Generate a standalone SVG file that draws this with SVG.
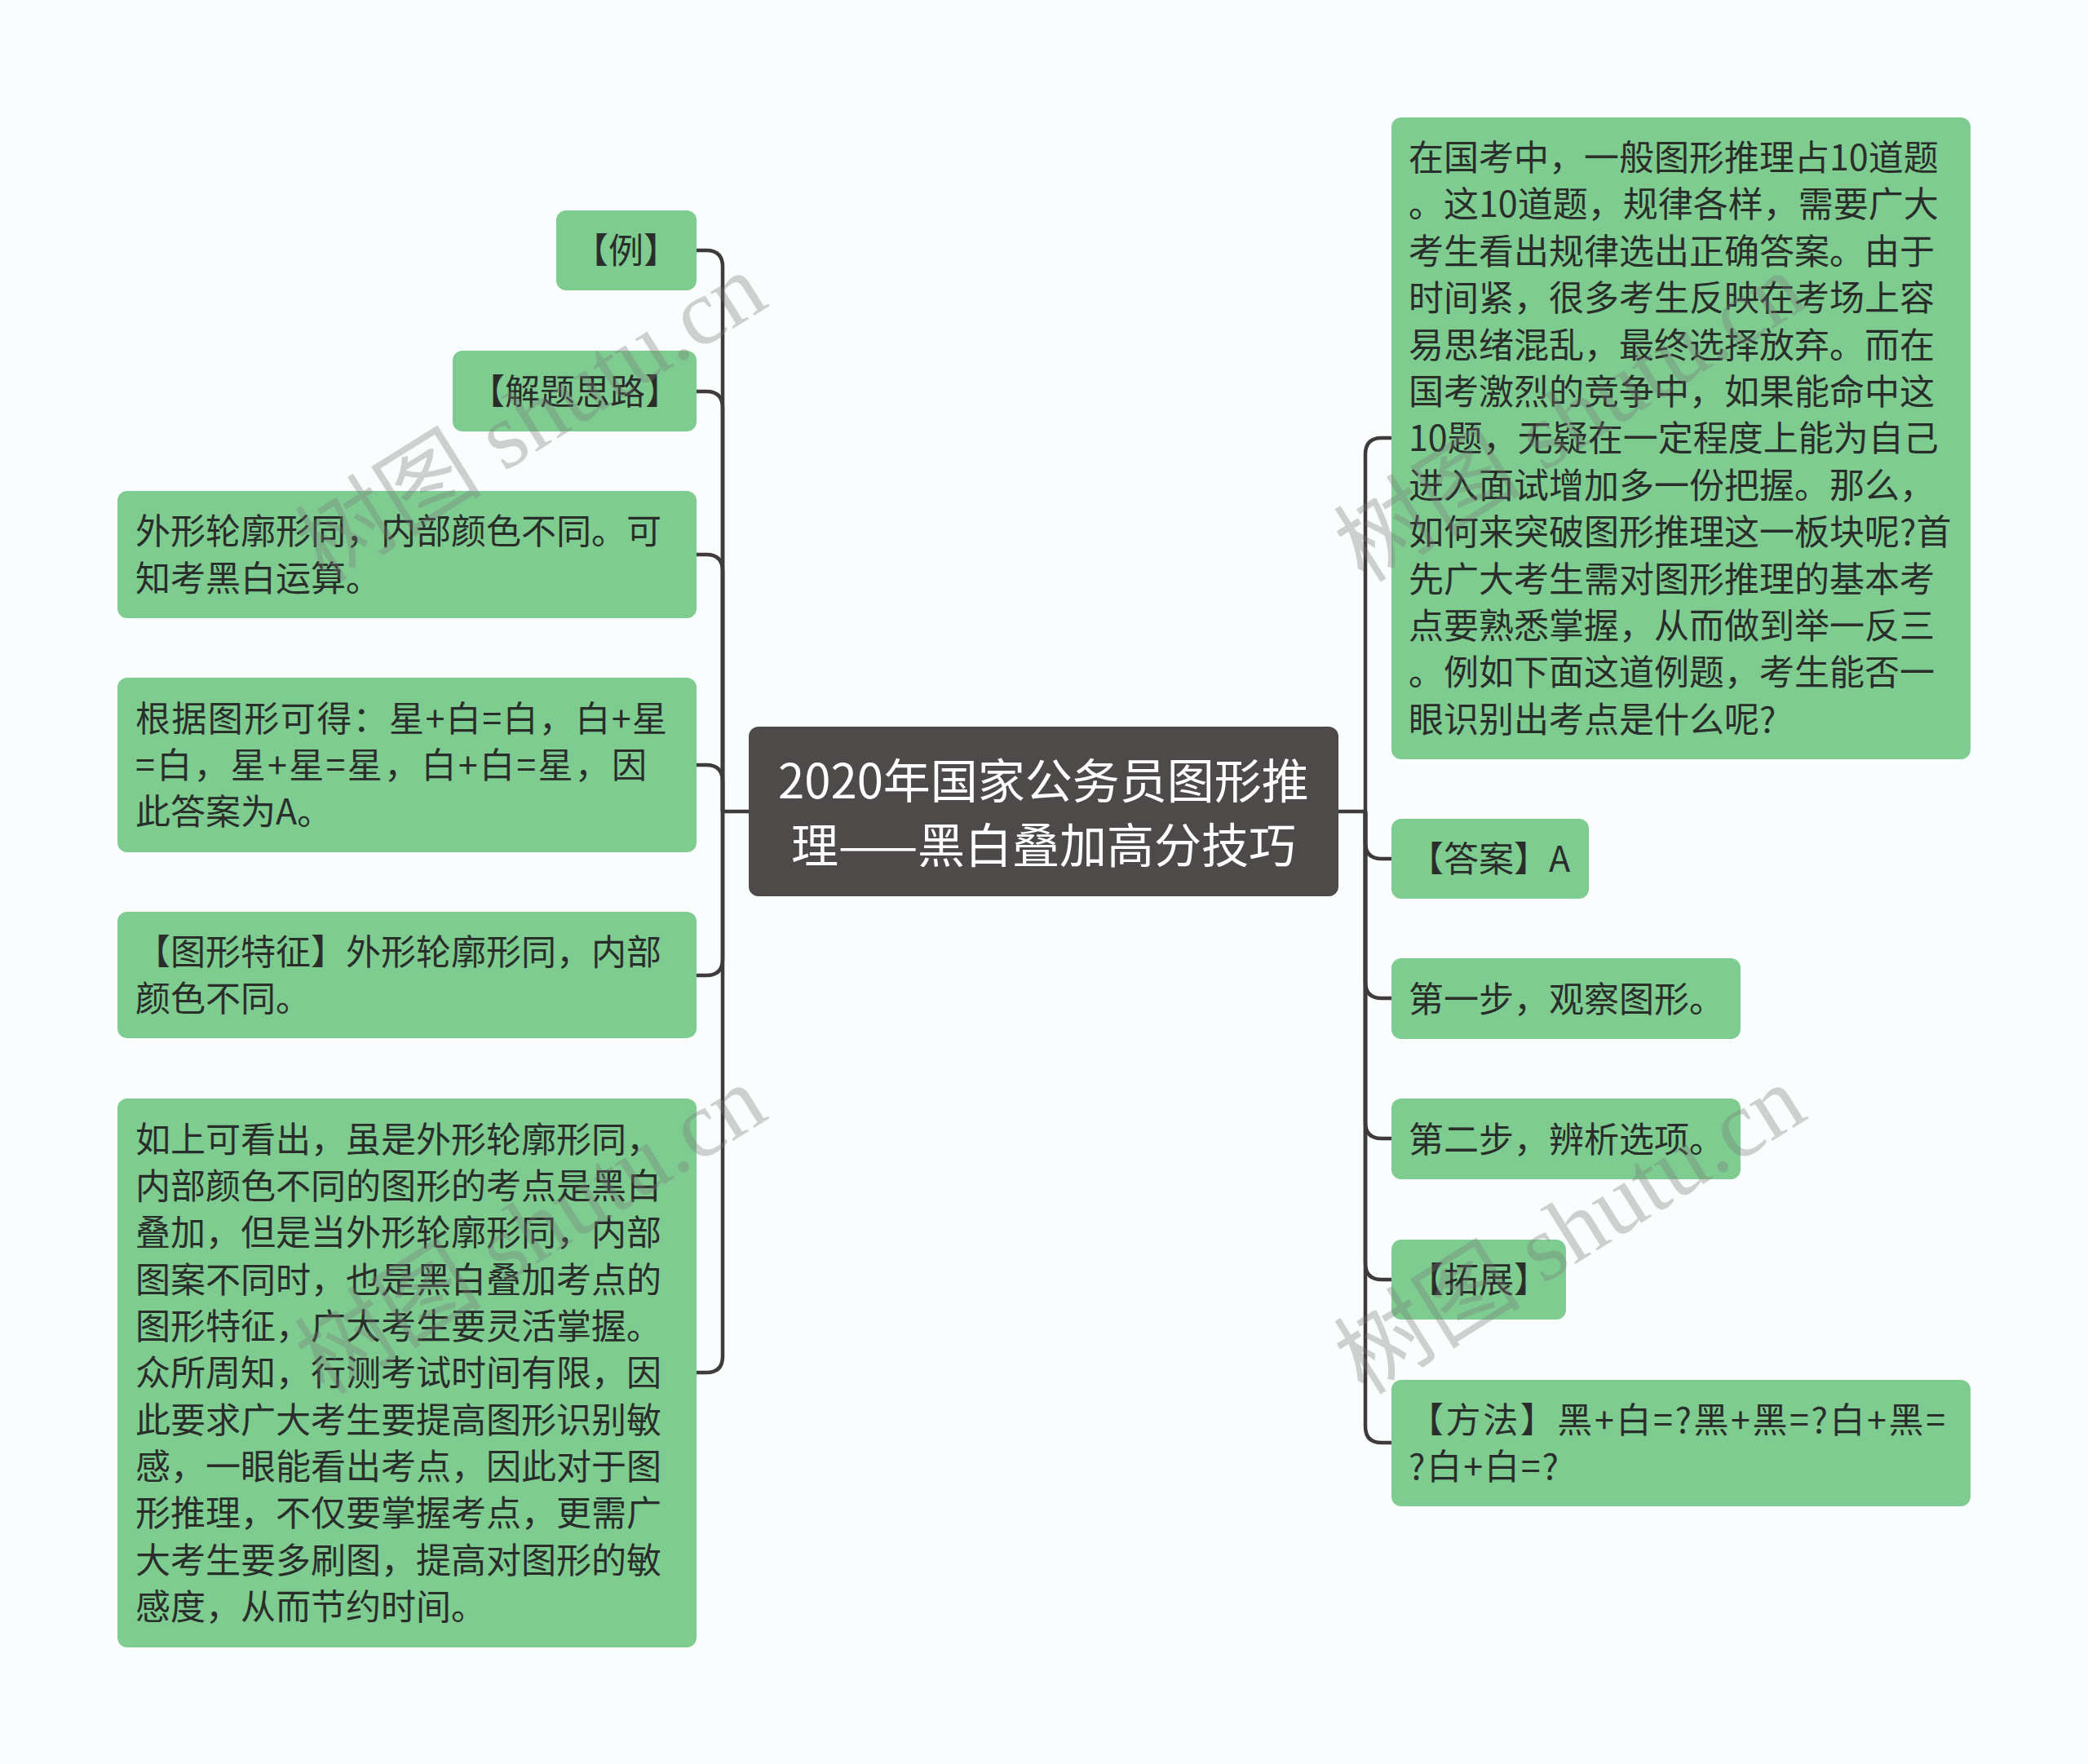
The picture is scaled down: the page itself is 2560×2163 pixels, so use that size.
<svg xmlns="http://www.w3.org/2000/svg" width="2560" height="2163" viewBox="0 0 2560 2163">
<style>
.bg{fill:#fafdfd}
.n{fill:#7fcc91}
.c{fill:#4e4a4a}
.t{font-family:"Noto Sans CJK SC","Noto Sans",sans-serif;font-size:43px;fill:#2a2e2b}
.ct{font-family:"Noto Sans CJK SC","Noto Sans",sans-serif;font-size:58px;fill:#ffffff;text-anchor:middle}
.e{fill:none;stroke:#3f3b3b;stroke-width:4.5;stroke-linejoin:round}
.wm{font-family:"Liberation Serif","Noto Sans CJK SC",serif;font-size:115px;fill:#777;fill-opacity:0.33}
</style>
<rect class="bg" x="0" y="0" width="2560" height="2163"/>
<g id="connectors">
<path class="e" d="M918 995 H886"/>
<path class="e" d="M1641 995 H1674"/>
<path class="e" d="M886 995 V327 Q886 307 866 307 H854"/>
<path class="e" d="M886 995 V500 Q886 480 866 480 H854"/>
<path class="e" d="M886 995 V700 Q886 680 866 680 H854"/>
<path class="e" d="M886 995 V958 Q886 938 866 938 H854"/>
<path class="e" d="M886 995 V1176 Q886 1196 866 1196 H854"/>
<path class="e" d="M886 995 V1663 Q886 1683 866 1683 H854"/>
<path class="e" d="M1674 995 V557 Q1674 537 1694 537 H1706"/>
<path class="e" d="M1674 995 V1033 Q1674 1053 1694 1053 H1706"/>
<path class="e" d="M1674 995 V1204 Q1674 1224 1694 1224 H1706"/>
<path class="e" d="M1674 995 V1376 Q1674 1396 1694 1396 H1706"/>
<path class="e" d="M1674 995 V1549 Q1674 1569 1694 1569 H1706"/>
<path class="e" d="M1674 995 V1749 Q1674 1769 1694 1769 H1706"/>
</g>
<g id="center">
<rect class="c" x="918" y="891" width="723" height="208" rx="12"/>
<text class="ct" x="1279.5" y="979">2020年国家公务员图形推</text>
<text class="ct" x="1279.5" y="1058">理——黑白叠加高分技巧</text>
</g>
<g id="l1">
<rect class="n" x="682" y="258" width="172" height="98" rx="12"/>
<text class="t" x="703" y="323">【例】</text>
</g>
<g id="l2">
<rect class="n" x="555" y="430" width="299" height="99" rx="12"/>
<text class="t" x="576" y="496">【解题思路】</text>
</g>
<g id="l3">
<rect class="n" x="144" y="602" width="710" height="156" rx="12"/>
<text class="t" x="166" y="667">外形轮廓形同，内部颜色不同。可</text>
<text class="t" x="166" y="725">知考黑白运算。</text>
</g>
<g id="l4">
<rect class="n" x="144" y="831" width="710" height="214" rx="12"/>
<text class="t" x="166" y="897" textLength="652" lengthAdjust="spacing">根据图形可得：星+白=白，白+星</text>
<text class="t" x="166" y="954" textLength="627" lengthAdjust="spacing">=白，星+星=星，白+白=星，因</text>
<text class="t" x="166" y="1011">此答案为A。</text>
</g>
<g id="l5">
<rect class="n" x="144" y="1118" width="710" height="155" rx="12"/>
<text class="t" x="166" y="1183">【图形特征】外形轮廓形同，内部</text>
<text class="t" x="166" y="1240">颜色不同。</text>
</g>
<g id="l6">
<rect class="n" x="144" y="1347" width="710" height="673" rx="12"/>
<text class="t" x="166" y="1413">如上可看出，虽是外形轮廓形同，</text>
<text class="t" x="166" y="1470">内部颜色不同的图形的考点是黑白</text>
<text class="t" x="166" y="1527">叠加，但是当外形轮廓形同，内部</text>
<text class="t" x="166" y="1585">图案不同时，也是黑白叠加考点的</text>
<text class="t" x="166" y="1642">图形特征，广大考生要灵活掌握。</text>
<text class="t" x="166" y="1699">众所周知，行测考试时间有限，因</text>
<text class="t" x="166" y="1757">此要求广大考生要提高图形识别敏</text>
<text class="t" x="166" y="1814">感，一眼能看出考点，因此对于图</text>
<text class="t" x="166" y="1871">形推理，不仅要掌握考点，更需广</text>
<text class="t" x="166" y="1929">大考生要多刷图，提高对图形的敏</text>
<text class="t" x="166" y="1986">感度，从而节约时间。</text>
</g>
<g id="r1">
<rect class="n" x="1706" y="144" width="710" height="787" rx="12"/>
<text class="t" x="1727" y="209">在国考中，一般图形推理占10道题</text>
<text class="t" x="1727" y="266">。这10道题，规律各样，需要广大</text>
<text class="t" x="1727" y="324">考生看出规律选出正确答案。由于</text>
<text class="t" x="1727" y="381">时间紧，很多考生反映在考场上容</text>
<text class="t" x="1727" y="439">易思绪混乱，最终选择放弃。而在</text>
<text class="t" x="1727" y="496">国考激烈的竞争中，如果能命中这</text>
<text class="t" x="1727" y="553">10题，无疑在一定程度上能为自己</text>
<text class="t" x="1727" y="611">进入面试增加多一份把握。那么，</text>
<text class="t" x="1727" y="668">如何来突破图形推理这一板块呢?首</text>
<text class="t" x="1727" y="726">先广大考生需对图形推理的基本考</text>
<text class="t" x="1727" y="783">点要熟悉掌握，从而做到举一反三</text>
<text class="t" x="1727" y="840">。例如下面这道例题，考生能否一</text>
<text class="t" x="1727" y="898">眼识别出考点是什么呢?</text>
</g>
<g id="r2">
<rect class="n" x="1706" y="1004" width="242" height="98" rx="12"/>
<text class="t" x="1727" y="1069">【答案】A</text>
</g>
<g id="r3">
<rect class="n" x="1706" y="1175" width="428" height="99" rx="12"/>
<text class="t" x="1727" y="1241">第一步，观察图形。</text>
</g>
<g id="r4">
<rect class="n" x="1706" y="1347" width="428" height="99" rx="12"/>
<text class="t" x="1727" y="1413">第二步，辨析选项。</text>
</g>
<g id="r5">
<rect class="n" x="1706" y="1520" width="214" height="98" rx="12"/>
<text class="t" x="1727" y="1585">【拓展】</text>
</g>
<g id="r6">
<rect class="n" x="1706" y="1692" width="710" height="155" rx="12"/>
<text class="t" x="1727" y="1757" textLength="658" lengthAdjust="spacing">【方法】黑+白=?黑+黑=?白+黑=</text>
<text class="t" x="1727" y="1814" textLength="184" lengthAdjust="spacing">?白+白=?</text>
</g>
<g id="watermark">
<text class="wm" transform="translate(398 716) rotate(-32)">树图 shutu.cn</text>
<text class="wm" transform="translate(398 1712) rotate(-32)">树图 shutu.cn</text>
<text class="wm" transform="translate(1672 716) rotate(-32)">树图 shutu.cn</text>
<text class="wm" transform="translate(1672 1712) rotate(-32)">树图 shutu.cn</text>
</g>
</svg>
